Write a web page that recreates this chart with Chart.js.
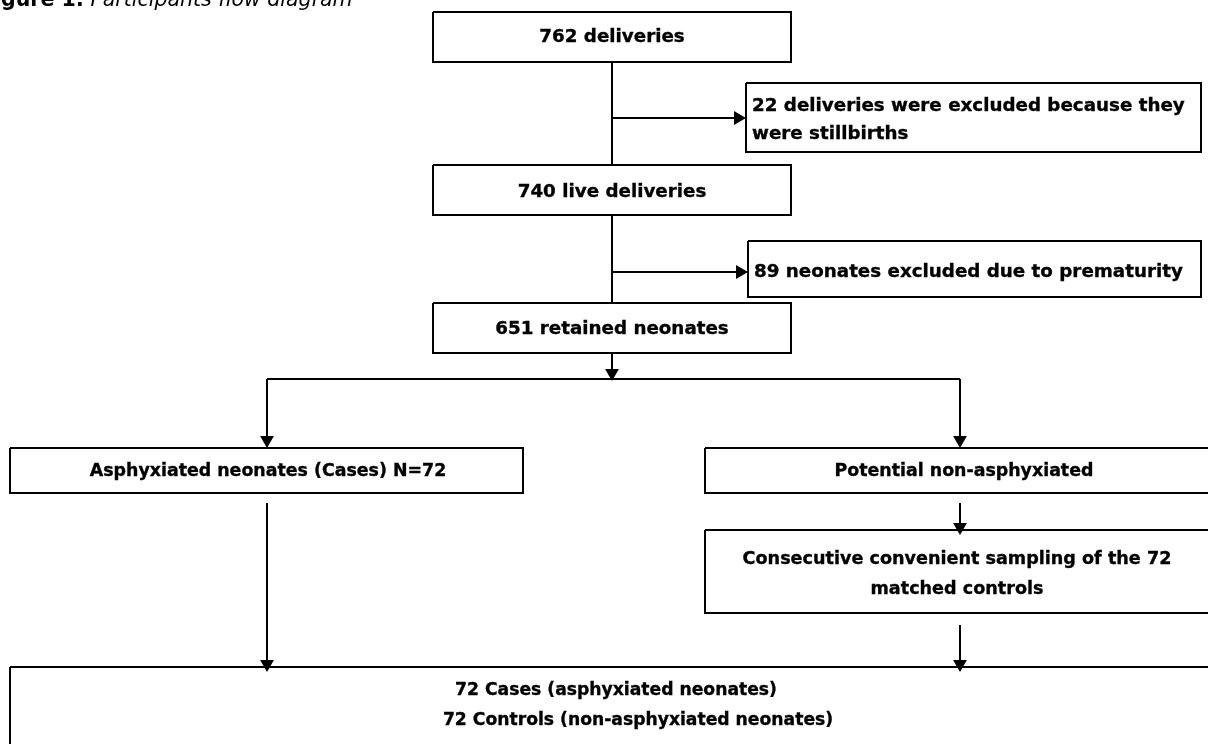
<!DOCTYPE html>
<html>
<head>
<meta charset="utf-8">
<script src="https://cdn.jsdelivr.net/npm/chart.js@4/dist/chart.umd.min.js"></script>
<style>
html,body{margin:0;padding:0;background:#fff;overflow:hidden;}
canvas{display:block;}
</style>
</head>
<body>
<canvas id="c" width="1208" height="744"></canvas>
<script>
// ---- content (the flow diagram's data) ----
const titleBold = 'Figure 1:';
const titleItalic = ' Participants flow diagram';
const counts = { deliveries: 762, stillbirths: 22, live: 740, premature: 89, retained: 651, cases: 72, controls: 72 };
const boxLines = [
  ['762 deliveries'],
  ['22 deliveries were excluded because they', 'were stillbirths'],
  ['740 live deliveries'],
  ['89 neonates excluded due to prematurity'],
  ['651 retained neonates'],
  ['Asphyxiated neonates (Cases) N=72'],
  ['Potential non-asphyxiated'],
  ['Consecutive convenient sampling of the 72', 'matched controls'],
  ['72 Cases (asphyxiated neonates)', '72 Controls (non-asphyxiated neonates)']
];

// ---- layout (diagram coordinates) ----
const boxX0 = [433, 746, 433, 748, 433, 10, 705, 705, 10];
const boxX1 = [791, 1201, 791, 1201, 791, 523, 1212, 1212, 1212];
const boxY0 = [12, 83, 165, 241, 303, 448, 448, 530, 667];
const boxY1 = [62, 152, 215, 297, 353, 493, 493, 613, 750];
const boxAlign = ['center', 'left', 'center', 'left', 'center', 'center', 'center', 'center', 'center'];
const boxFont = [18.3, 18.3, 18.3, 18.3, 18.3, 17.4, 17.4, 17.6, 17.2];
const lineY = [[37], [106, 134], [192], [272], [329], [471], [471], [559, 589], [691, 721]];
const lineX = [[612], [752], [612], [754], [612], [268], [964], [957], [616, 638]];

// connectors: [x1, y1, x2, y2]
const connectors = [
  [612, 62, 612, 165],
  [612, 118, 740, 118],
  [612, 215, 612, 303],
  [612, 272, 742, 272],
  [612, 353, 612, 370],
  [267, 379, 960, 379],
  [267, 379, 267, 438],
  [960, 379, 960, 438],
  [267, 503, 267, 660],
  [960, 503, 960, 523],
  [960, 625, 960, 660]
];
// arrowheads: [tipX, tipY, direction]
const arrows = [
  [746, 118, 'right'],
  [748, 272, 'right'],
  [612, 381, 'down'],
  [267, 448, 'down'],
  [960, 448, 'down'],
  [960, 535, 'down'],
  [267, 672, 'down'],
  [960, 672, 'down']
];
const arrowR = 8;

// ---- build datasets ----
const datasets = [];
for (let i = 0; i < boxLines.length; i++) {
  datasets.push({
    data: [
      {x: boxX0[i], y: boxY0[i]}, {x: boxX1[i], y: boxY0[i]},
      {x: boxX1[i], y: boxY1[i]}, {x: boxX0[i], y: boxY1[i]},
      {x: boxX0[i], y: boxY0[i]}
    ],
    showLine: true, borderColor: '#000', borderWidth: 2, pointRadius: 0,
    borderJoinStyle: 'miter', tension: 0, fill: false
  });
}
connectors.forEach(c => {
  datasets.push({
    data: [{x: c[0], y: c[1]}, {x: c[2], y: c[3]}],
    showLine: true, borderColor: '#000', borderWidth: 2, pointRadius: 0, fill: false
  });
});
datasets.push({
  data: arrows.map(a => a[2] === 'down' ? {x: a[0], y: a[1] - arrowR} : {x: a[0] - arrowR, y: a[1]}),
  showLine: false,
  pointStyle: 'triangle',
  pointRadius: arrowR,
  rotation: arrows.map(a => a[2] === 'down' ? 180 : 90),
  backgroundColor: '#000', borderColor: '#000', borderWidth: 0
});

const textPlugin = {
  id: 'texts',
  afterDatasetsDraw(chart) {
    const ctx = chart.ctx, xs = chart.scales.x, ys = chart.scales.y;
    ctx.save();
    ctx.fillStyle = '#000';
    ctx.strokeStyle = '#000';
    ctx.lineWidth = 0.35;
    // title (cut by the top edge, as in the source)
    ctx.textBaseline = 'alphabetic';
    ctx.textAlign = 'left';
    ctx.font = 'bold 20.5px "DejaVu Sans", Verdana, sans-serif';
    const tx = xs.getPixelForValue(-20), ty = ys.getPixelForValue(6);
    ctx.fillText(titleBold, tx, ty);
    const w = ctx.measureText(titleBold).width;
    ctx.font = 'oblique 20.5px "DejaVu Sans", Verdana, sans-serif';
    ctx.fillText(titleItalic, tx + w, ty);
    // box texts
    ctx.textBaseline = 'middle';
    boxLines.forEach((lines, i) => {
      ctx.font = 'bold ' + boxFont[i] + 'px "DejaVu Sans", Verdana, sans-serif';
      ctx.textAlign = boxAlign[i];
      lines.forEach((t, j) => {
        const lx = lineX[i][j] !== undefined ? lineX[i][j] : lineX[i][0];
        const px = xs.getPixelForValue(lx), py = ys.getPixelForValue(lineY[i][j]);
        ctx.fillText(t, px, py);
        ctx.strokeText(t, px, py);
      });
    });
    ctx.restore();
  }
};

new Chart(document.getElementById('c'), {
  type: 'scatter',
  data: { datasets },
  options: {
    responsive: false,
    animation: false,
    events: [],
    layout: { padding: 0, autoPadding: false },
    plugins: { legend: { display: false }, tooltip: { enabled: false }, title: { display: false } },
    scales: {
      x: { type: 'linear', min: 0, max: 1208, display: false, offset: false },
      y: { type: 'linear', min: 0, max: 744, reverse: true, display: false, offset: false }
    }
  },
  plugins: [textPlugin]
});
</script>
</body>
</html>
